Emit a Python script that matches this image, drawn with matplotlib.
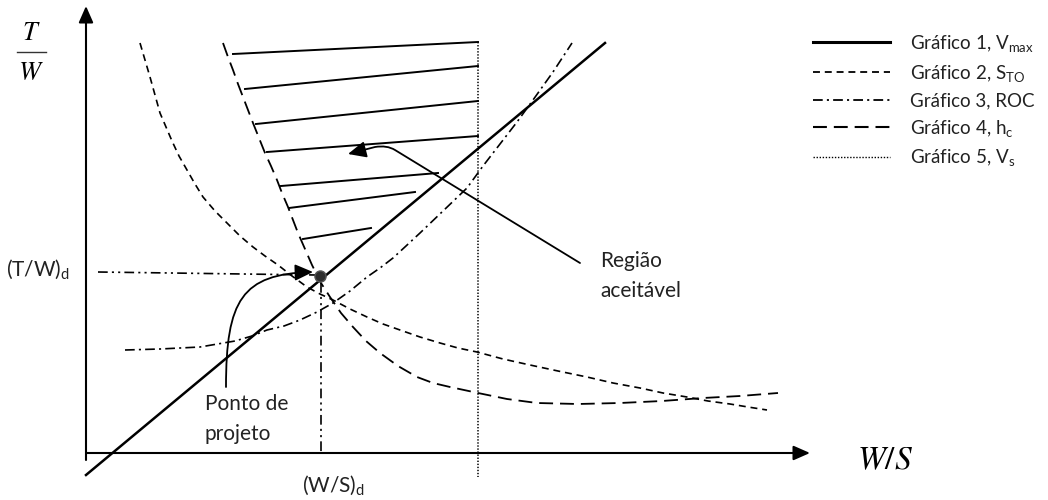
import matplotlib.pyplot as plt
from matplotlib.lines import Line2D
from matplotlib.path import Path
from matplotlib.patches import FancyArrowPatch

plt.rcParams['font.family'] = ['Lato', 'DejaVu Sans']
plt.rcParams['mathtext.default'] = 'regular'
plt.rcParams['mathtext.fontset'] = 'stix'
plt.rcParams['lines.scale_dashes'] = False

# schematic curves (pixel units, y grows downward)
vmax_x = [86, 605]
vmax_y = [475, 43]

sto_x = [140, 145, 150, 155, 160, 166, 172, 179, 187, 195, 203, 215, 227, 240, 253, 265, 278, 292, 307, 320, 333,
         350, 367, 383, 400, 420, 440, 458, 477, 503, 530, 558, 587, 613, 640, 663, 687, 708, 730, 748, 767]
sto_y = [43, 60, 77, 95, 113, 127, 141, 156, 170, 184, 197, 211, 223, 236, 247, 256, 265, 276, 287, 294, 300,
         309, 317, 324, 330, 337, 343, 348, 352, 359, 365, 371, 377, 383, 388, 393, 397, 401, 404, 407, 410]

roc_x = [125, 160, 200, 235, 252, 267, 284, 300, 317, 333, 350, 367, 380, 393, 406, 420, 443, 467, 483, 500, 517,
         533, 553, 572]
roc_y = [350, 349, 347, 341, 336, 330, 326, 320, 312, 303, 291, 277, 268, 258, 246, 233, 211, 188, 166, 144, 122,
         100, 72, 43]

hc_x = [223, 228, 233, 238, 243, 248, 253, 259, 265, 271, 277, 282, 288, 293, 298, 305, 312, 321, 330, 341, 353,
        366, 380, 398, 417, 433, 450, 464, 478, 507, 537, 578, 620, 662, 703, 740, 778]
hc_y = [43, 57, 70, 84, 97, 110, 123, 138, 153, 166, 180, 193, 207, 220, 233, 249, 265, 283, 297, 313, 327,
        341, 353, 366, 377, 383, 387, 390, 393, 399, 403, 404, 403, 401, 398, 396, 393]

vs_x = [478, 478]
vs_y = [42, 477]

# hatch lines of the acceptable region
hatch_x0 = [233, 245, 256, 267, 281, 289, 303]
hatch_y0 = [54, 89, 124, 152, 186, 208, 239]
hatch_x1 = [478, 478, 478, 478, 438, 415, 371]
hatch_y1 = [42, 66, 101, 136, 173, 192, 228]

design_x = 320
design_y = 276

labels = ['Gráfico 1, V$_{max}$', 'Gráfico 2, S$_{TO}$', 'Gráfico 3, ROC',
          'Gráfico 4, h$_{c}$', 'Gráfico 5, V$_{s}$']

ls_sto = (0, (5, 3.5))
ls_roc = (0, (7, 3, 1.5, 3))
ls_hc = (0, (10, 5))
ls_vs = (0, (1, 1.2))
ls_guide = (0, (7, 3, 1.5, 3, 1.5, 3))

fig = plt.figure(figsize=(10.48, 5.0), dpi=100)
ax = fig.add_axes([0, 0, 1, 1])
ax.set_xlim(0, 1048)
ax.set_ylim(500, 0)
ax.axis('off')

# axes with arrowheads
head = dict(arrowstyle='-|>,head_length=0.5,head_width=0.22', mutation_scale=20,
            lw=1.5, color='black', shrinkA=0, shrinkB=0)
ax.annotate('', xy=(86, 6), xytext=(86, 460), arrowprops=head)
ax.annotate('', xy=(810, 453), xytext=(86, 453), arrowprops=head)

ax.plot(vmax_x, vmax_y, color='black', lw=1.8)
ax.plot(sto_x, sto_y, color='black', lw=1.2, linestyle=ls_sto)
ax.plot(roc_x, roc_y, color='black', lw=1.2, linestyle=ls_roc)
ax.plot(hc_x, hc_y, color='black', lw=1.3, linestyle=ls_hc)
ax.plot(vs_x, vs_y, color='black', lw=1.1, linestyle=ls_vs)

for x0, y0, x1, y1 in zip(hatch_x0, hatch_y0, hatch_x1, hatch_y1):
    ax.plot([x0, x1], [y0, y1], color='black', lw=1.4)

# design point and guide lines
ax.plot([98, 316], [272, 275], color='black', lw=1.2, linestyle=ls_guide)
ax.plot([321, 321], [283, 455], color='black', lw=1.2, linestyle=ls_guide)
ax.plot([design_x], [design_y], 'o', color='#2e2e2e', markersize=8,
        markeredgecolor='#555555')

# annotation arrows
arrow = '-|>,head_length=0.55,head_width=0.25'
p1 = Path([(226, 387), (226, 300), (242, 274), (313, 272)],
          [Path.MOVETO, Path.CURVE4, Path.CURVE4, Path.CURVE4])
ax.add_patch(FancyArrowPatch(path=p1, arrowstyle=arrow, mutation_scale=20, lw=1.3, color='black'))
p2 = Path([(580, 263), (395, 150), (387, 145), (375, 147), (348, 154)],
          [Path.MOVETO, Path.LINETO, Path.CURVE3, Path.CURVE3, Path.LINETO])
ax.add_patch(FancyArrowPatch(path=p2, arrowstyle=arrow, mutation_scale=20, lw=1.3, color='black'))

# axis titles (italic serif)
ax.text(31, 33, r'$\mathit{T}$', fontsize=19, ha='center', va='center')
ax.plot([17, 46], [52, 52], color='#333333', lw=1.0)
ax.text(31, 72, r'$\mathit{W}$', fontsize=19, ha='center', va='center')
ax.text(885, 460, r'$\mathit{W/S}$', fontsize=24, ha='center', va='center')

txt = dict(fontsize=15, ha='left', va='baseline', color='#222222')
ax.text(6, 276, '(T/W)$_{d}$', **txt)
ax.text(302, 492, '(W/S)$_{d}$', **txt)
ax.text(205, 410, 'Ponto de', **txt)
ax.text(205, 440, 'projeto', **txt)
ax.text(600, 267, 'Região', **txt)
ax.text(600, 297, 'aceitável', **txt)

# legend
handles = [Line2D([], [], color='black', lw=2.2),
           Line2D([], [], color='black', lw=1.3, linestyle=ls_sto),
           Line2D([], [], color='black', lw=1.3, linestyle=ls_roc),
           Line2D([], [], color='black', lw=1.5, linestyle=ls_hc),
           Line2D([], [], color='black', lw=1.0, linestyle=ls_vs)]
ax.legend(handles, labels, loc='upper left', bbox_to_anchor=(813, 33),
          bbox_transform=ax.transData, frameon=False, fontsize=13.5,
          handlelength=4.1, handletextpad=1.1, labelspacing=0.46,
          borderpad=0, borderaxespad=0, labelcolor='#222222')

fig.savefig('out.png', dpi=100)
